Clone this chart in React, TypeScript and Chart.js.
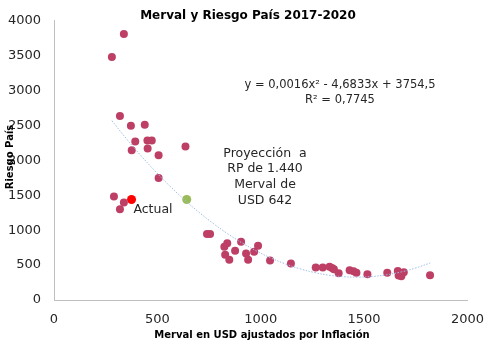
import React, { useEffect, useRef } from "react";
import { Chart, registerables } from "chart.js";

Chart.register(...registerables);

// Scatter data: Merval in USD (inflation-adjusted) vs Riesgo País
const mervalUSD = [338, 280, 319, 372, 439, 393, 452, 473, 376, 453, 636, 506, 506, 290, 338, 319, 740, 755, 838, 824, 905, 987, 828, 876, 929, 968, 848, 939, 1045, 1146, 1266, 1300, 1333, 1345, 1354, 1377, 1430, 1449, 1463, 1516, 1612, 1663, 1692, 1667, 1680, 1819];
const riesgoPais = [3810, 3480, 2637, 2496, 2510, 2270, 2285, 2285, 2144, 2172, 2200, 2073, 1749, 1482, 1397, 1299, 946, 946, 814, 763, 834, 777, 650, 707, 665, 693, 575, 575, 566, 524, 467, 467, 476, 458, 439, 383, 425, 411, 392, 369, 392, 415, 397, 350, 341, 355];

const actualX = [375];
const actualY = [1440];
const proyX = [642];
const proyY = [1440];

// Trendline as printed on the chart: y = 0,0016x² - 4,6833x + 3754,5
const trendCoeffs = [0.0016, -4.6833, 3754.5];
const trendXs = [280, 350, 420, 490, 560, 630, 700, 770, 840, 910, 980, 1050, 1120, 1190, 1260, 1330, 1400, 1470, 1540, 1610, 1680, 1750, 1820];

const xTicks = [0, 500, 1000, 1500, 2000];
const yTicks = [0, 500, 1000, 1500, 2000, 2500, 3000, 3500, 4000];

const titleText = "Merval y Riesgo País 2017-2020";
const xTitle = "Merval en USD ajustados por Inflación";
const yTitle = "Riesgo País";
const eqLines = ["y = 0,0016x² - 4,6833x + 3754,5", "R² = 0,7745"];
const proyLines = ["Proyección  a", "RP de 1.440", "Merval de", "USD 642"];
const actualLabel = "Actual";

const FONT = "'DejaVu Sans', sans-serif";

const textPlugin = {
  id: "texts",
  afterDraw(chart: any) {
    const ctx = chart.ctx;
    ctx.save();
    ctx.fillStyle = "#000";
    ctx.textBaseline = "middle";
    ctx.textAlign = "center";
    ctx.font = `bold 12px ${FONT}`;
    ctx.fillText(titleText, 248, 16);

    ctx.font = `bold 10px ${FONT}`;
    ctx.fillText(xTitle, 262, 335);

    ctx.save();
    ctx.translate(10, 157);
    ctx.rotate(-Math.PI / 2);
    ctx.fillText(yTitle, 0, 0);
    ctx.restore();

    ctx.fillStyle = "#262626";
    ctx.font = `11.5px ${FONT}`;
    ctx.fillText(eqLines[0], 340, 85);
    ctx.fillText(eqLines[1], 340, 100);

    ctx.font = `12.5px ${FONT}`;
    const ys = [154, 169, 185, 201];
    proyLines.forEach((l, i) => ctx.fillText(l, 265, ys[i]));

    ctx.fillText(actualLabel, 153, 210);
    ctx.restore();
  },
};

export default function App() {
  const ref = useRef<HTMLCanvasElement>(null);
  useEffect(() => {
    if (!ref.current) return;
    const main = mervalUSD.map((x, i) => ({ x, y: riesgoPais[i] }));
    const act = actualX.map((x, i) => ({ x, y: actualY[i] }));
    const proy = proyX.map((x, i) => ({ x, y: proyY[i] }));
    const trend = trendXs.map((x) => ({
      x,
      y: trendCoeffs[0] * x * x + trendCoeffs[1] * x + trendCoeffs[2],
    }));
    const chart = new Chart(ref.current, {
      type: "scatter",
      data: {
        datasets: [
          {
            type: "line",
            data: trend,
            borderColor: "#9dbde6",
            borderWidth: 1,
            borderDash: [1.5, 1.5],
            pointRadius: 0,
            tension: 0.4,
            fill: false,
          } as any,
          {
            data: main,
            backgroundColor: "#be3f66",
            borderWidth: 0,
            pointRadius: 4,
          },
          {
            data: act,
            backgroundColor: "#ff0000",
            borderWidth: 0,
            pointRadius: 4.5,
          },
          {
            data: proy,
            backgroundColor: "#9bbb59",
            borderWidth: 0,
            pointRadius: 4.5,
          },
        ],
      },
      options: {
        animation: false,
        responsive: false,
        devicePixelRatio: 1,
        layout: { padding: { left: 8, top: 15, right: 26, bottom: 0 } },
        plugins: {
          legend: { display: false },
          tooltip: { enabled: false },
          title: { display: false },
        },
        scales: {
          x: {
            type: "linear",
            min: 0,
            max: 2000,
            afterBuildTicks: (s: any) => {
              s.ticks = xTicks.map((v) => ({ value: v }));
            },
            afterFit: (s: any) => {
              s.height = 53;
            },
            grid: { display: false, drawTicks: false },
            border: { display: true, color: "#bfbfbf", width: 1 },
            ticks: {
              padding: 12,
              color: "#262626",
              font: { family: FONT, size: 13 },
              callback: (v: any) => String(v),
            },
          },
          y: {
            type: "linear",
            min: 0,
            max: 4000,
            afterBuildTicks: (s: any) => {
              s.ticks = yTicks.map((v) => ({ value: v }));
            },
            afterFit: (s: any) => {
              s.width = 46;
            },
            grid: { display: false, drawTicks: false },
            border: { display: true, color: "#bfbfbf", width: 1 },
            ticks: {
              padding: 13,
              color: "#262626",
              font: { family: FONT, size: 13 },
              callback: (v: any) => String(v),
            },
          },
        },
      },
      plugins: [textPlugin],
    });
    return () => chart.destroy();
  }, []);
  return (
    <div style={{ position: "fixed", left: 0, top: 0, width: 496, height: 353, background: "#fff" }}>
      <canvas ref={ref} width={496} height={353} style={{ display: "block" }} />
    </div>
  );
}
